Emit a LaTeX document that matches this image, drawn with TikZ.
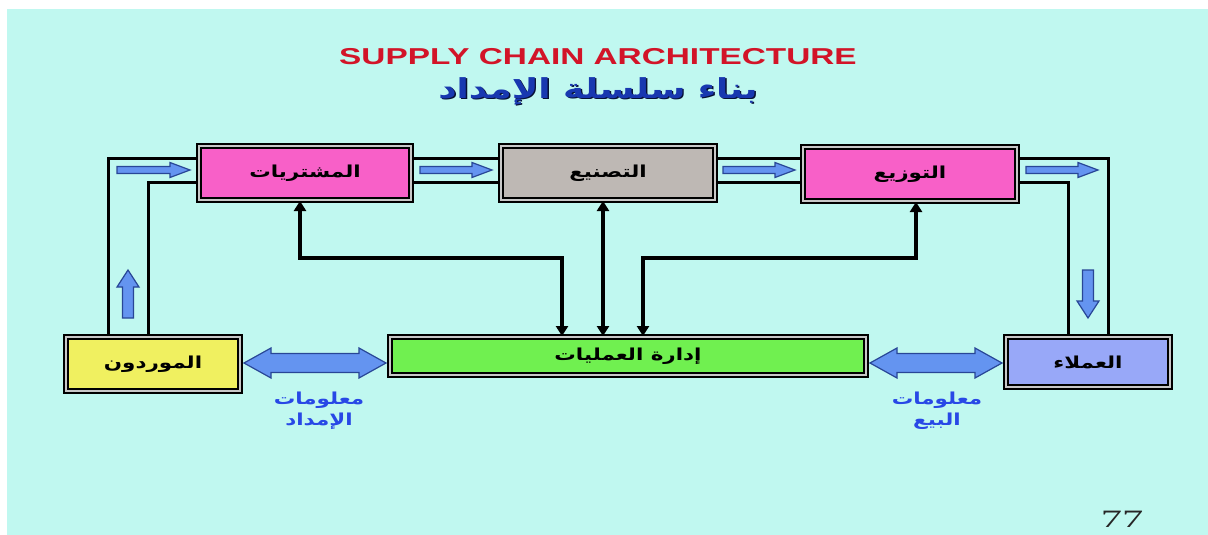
\documentclass[tikz,border=0pt]{standalone}
\usepackage{fontspec}
\setmainfont{Liberation Sans}
\TeXXeTstate=1
\newfontfamily\arabicfont[Script=Arabic,FakeStretch=1.3]{DejaVu Sans Bold}
\newfontfamily\titlefont[FakeStretch=1.45]{Liberation Sans Bold}
\newfontfamily\pagenumfont[FakeStretch=1.7]{Liberation Serif}
\usetikzlibrary{arrows.meta,calc}

\definecolor{bgcyan}{RGB}{192,248,240}
\definecolor{pinkbox}{RGB}{248,96,200}
\definecolor{graybox}{RGB}{190,184,180}
\definecolor{yellowbox}{RGB}{240,240,96}
\definecolor{greenbox}{RGB}{112,240,80}
\definecolor{bluebox}{RGB}{152,168,248}
\definecolor{boxgap}{RGB}{200,200,200}
\definecolor{flowfill}{RGB}{100,148,240}
\definecolor{flowline}{RGB}{40,70,150}
\definecolor{titlered}{RGB}{210,20,40}
\definecolor{titleblue}{RGB}{24,56,176}
\definecolor{labelblue}{RGB}{40,72,230}

\tikzset{
  stagebox/.style={draw=black, line width=2pt, double=boxgap, double distance=2pt,
    inner sep=0pt, font=\arabicfont\fontsize{16.5}{18}\selectfont},
  link/.style={line width=3pt, black},
  ctrl/.style={line width=3.6pt, black, {Triangle[width=12pt,length=10pt]}-{Triangle[width=12pt,length=10pt]}},
  flow/.style={fill=flowfill, draw=flowline, line width=1.2pt, line join=miter},
  infolabel/.style={text=labelblue, align=center, inner sep=0pt,
    font=\arabicfont\fontsize{16.5}{21}\selectfont},
  pics/flowarrow/.style n args={4}{code={
    \draw[flow] (0,-#2) -- ({#1-#4},-#2) -- ({#1-#4},-#3) -- (#1,0)
      -- ({#1-#4},#3) -- ({#1-#4},#2) -- (0,#2) -- cycle;}}
}

\begin{document}
\begin{tikzpicture}[x=1pt,y=-1pt]
\useasboundingbox (0,0) rectangle (1208,535);
\fill[white] (0,0) rectangle (1208,535);
\fill[bgcyan] (7,9) rectangle (1208,535);

% headings
\node[text=titlered, font=\titlefont\fontsize{23}{25}\selectfont] (title) at (598,57) {SUPPLY CHAIN ARCHITECTURE};
\node[text=black!70!titleblue, font=\arabicfont\fontsize{27.5}{30}\selectfont] at (599.4,92.4) {\beginR بناء سلسلة الإمداد\endR};
\node[text=titleblue, font=\arabicfont\fontsize{27.5}{30}\selectfont] (subtitle) at (598,91) {\beginR بناء سلسلة الإمداد\endR};

% stages
\node[stagebox, fill=pinkbox, minimum width=212, minimum height=54] (pur) at (305,173) {\beginR المشتريات\endR};
\node[stagebox, fill=graybox, minimum width=214, minimum height=54] (man) at (608,173) {\beginR التصنيع\endR};
\node[stagebox, fill=pinkbox, minimum width=214, minimum height=54] (dist) at (910,174) {\beginR التوزيع\endR};
\node[stagebox, fill=yellowbox, minimum width=174, minimum height=54] (sup) at (153,364) {\beginR الموردون\endR};
\node[stagebox, fill=greenbox, minimum width=476, minimum height=38] (ops) at (628,356) {\beginR إدارة العمليات\endR};
\node[stagebox, fill=bluebox, minimum width=164, minimum height=50] (cust) at (1088,362) {\beginR العملاء\endR};

% material flow channels
\draw[link] (sup.north -| 108,0) |- (pur.west |- 0,158);
\draw[link] (sup.north -| 148,0) |- (pur.west |- 0,182);
\draw[link] (pur.east |- 0,158) -- (man.west |- 0,158);
\draw[link] (pur.east |- 0,182) -- (man.west |- 0,182);
\draw[link] (man.east |- 0,158) -- (dist.west |- 0,158);
\draw[link] (man.east |- 0,182) -- (dist.west |- 0,182);
\draw[link] (dist.east |- 0,158) -| (cust.north -| 1108,0);
\draw[link] (dist.east |- 0,182) -| (cust.north -| 1068,0);

% flow direction marks
\pic at (117,170) {flowarrow={73}{3.5}{7.5}{20}};
\pic at (420,170) {flowarrow={72}{3.5}{7.5}{20}};
\pic at (723,170) {flowarrow={72}{3.5}{7.5}{20}};
\pic at (1026,170) {flowarrow={72}{3.5}{7.5}{20}};
\pic[rotate=90] at (128,318) {flowarrow={48}{5.5}{11}{17}};
\pic[rotate=-90] at (1088,270) {flowarrow={48}{5.5}{11}{17}};

% control links with operations management
\draw[ctrl] (pur.south -| 300,0) |- (562,258) -- (ops.north -| 562,0);
\draw[ctrl] (man.south -| 603,0) -- (ops.north -| 603,0);
\draw[ctrl] (dist.south -| 916,0) |- (643,258) -- (ops.north -| 643,0);

% information exchange
\path let \p1=(sup.east), \p2=(ops.west) in
  [flow] (\x1+3pt,\y1+1pt) -- (\x1+30pt,\y1+16pt) -- (\x1+30pt,\y1+10.5pt)
  -- (\x2-30pt,\y1+10.5pt) -- (\x2-30pt,\y1+16pt) -- (\x2-3pt,\y1+1pt)
  -- (\x2-30pt,\y1-14pt) -- (\x2-30pt,\y1-8.5pt) -- (\x1+30pt,\y1-8.5pt)
  -- (\x1+30pt,\y1-14pt) -- cycle;
\path let \p1=(ops.east), \p2=(cust.west) in
  [flow] (\x1+3pt,\y2-1pt) -- (\x1+30pt,\y2+14pt) -- (\x1+30pt,\y2+8.5pt)
  -- (\x2-30pt,\y2+8.5pt) -- (\x2-30pt,\y2+14pt) -- (\x2-3pt,\y2-1pt)
  -- (\x2-30pt,\y2-16pt) -- (\x2-30pt,\y2-10.5pt) -- (\x1+30pt,\y2-10.5pt)
  -- (\x1+30pt,\y2-16pt) -- cycle;

\node[infolabel] (supinfo) at (319,411) {\beginR معلومات\endR\\\beginR الإمداد\endR};
\node[infolabel] (salesinfo) at (937,411) {\beginR معلومات\endR\\\beginR البيع\endR};

% slide number
\node[text=black!85, font=\pagenumfont\fontsize{25}{27}\selectfont] (pagenum) at (1122,519) {77};
\end{tikzpicture}
\end{document}
